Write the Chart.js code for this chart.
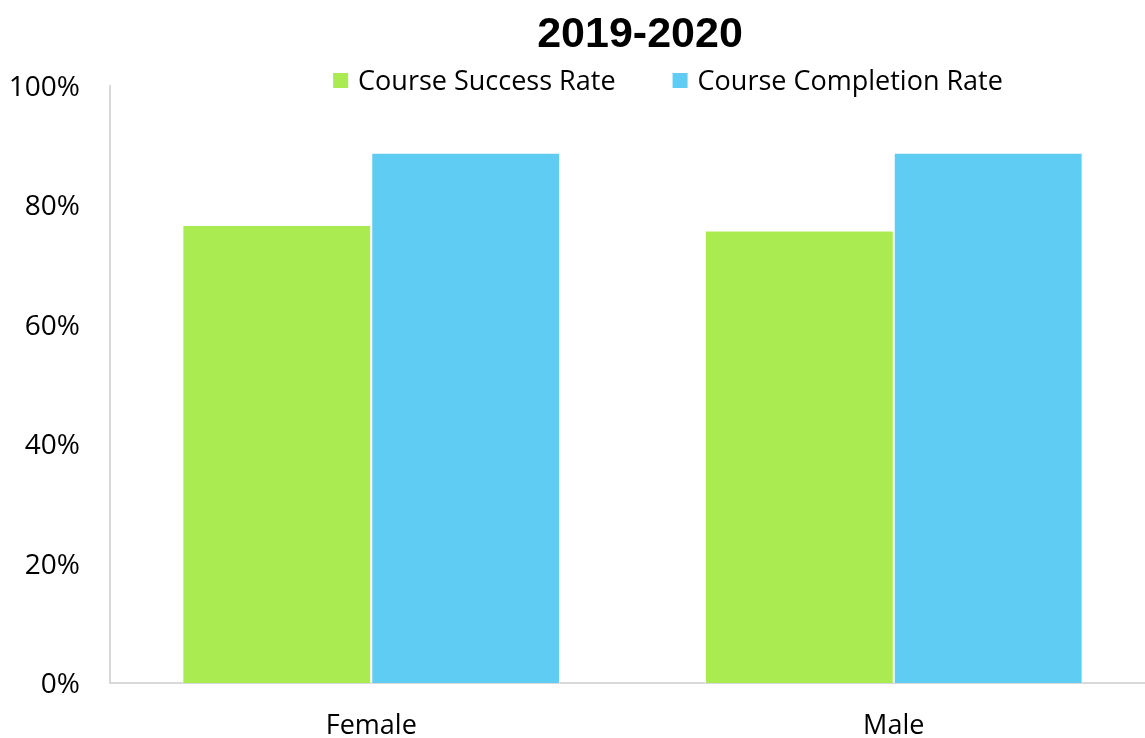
<!DOCTYPE html>
<html>
<head>
<meta charset="utf-8">
<script src="https://cdn.jsdelivr.net/npm/chart.js@4/dist/chart.umd.min.js"></script>
<style>
  html, body { margin: 0; padding: 0; overflow: hidden; background: #ffffff; }
  canvas { display: block; }
</style>
</head>
<body>
<canvas id="chart" width="1155" height="738"></canvas>
<script>
// Course outcome rates by gender, 2019-2020
const chartTitle = '2019-2020';
const categories = ['Female', 'Male'];
const seriesNames = ['Course Success Rate', 'Course Completion Rate'];
const successRate = [76.7, 75.8];
const completionRate = [88.8, 88.8];
const yTickValues = [0, 20, 40, 60, 80, 100];
const seriesColors = ['#AAEB52', '#5FCCF3'];

const TEXT_FONT = "'Open Sans', 'Liberation Sans', sans-serif";
const TITLE_FONT = "'Liberation Sans', Arial, sans-serif";

// Title and series key drawn across the top band
const headerPlugin = {
  id: 'header',
  afterDraw(chart) {
    const ctx = chart.ctx;
    ctx.save();
    ctx.fillStyle = '#000000';
    ctx.font = `bold 43px ${TITLE_FONT}`;
    ctx.textAlign = 'center';
    ctx.textBaseline = 'alphabetic';
    ctx.fillText(chartTitle, 640, 47);

    ctx.font = `27px ${TEXT_FONT}`;
    ctx.textAlign = 'left';
    const box = 15, textGap = 10, itemGap = 57;
    const items = chart.data.datasets.map(ds => ({
      label: ds.label,
      color: ds.backgroundColor,
      w: ctx.measureText(ds.label).width
    }));
    const total = items.reduce((s, it) => s + box + textGap + it.w, 0) + itemGap * (items.length - 1);
    let x = 668 - total / 2;
    items.forEach(it => {
      ctx.fillStyle = it.color;
      ctx.fillRect(x, 73, box, box);
      ctx.fillStyle = '#000000';
      ctx.fillText(it.label, x + box + textGap, 90);
      x += box + textGap + it.w + itemGap;
    });
    ctx.restore();
  }
};

new Chart(document.getElementById('chart'), {
  type: 'bar',
  data: {
    labels: categories,
    datasets: [
      {
        label: seriesNames[0],
        data: successRate,
        backgroundColor: seriesColors[0],
        borderColor: '#ffffff',
        borderWidth: 1
      },
      {
        label: seriesNames[1],
        data: completionRate,
        backgroundColor: seriesColors[1],
        borderColor: '#ffffff',
        borderWidth: 1
      }
    ]
  },
  options: {
    responsive: false,
    animation: false,
    events: [],
    layout: { padding: { top: 86, left: 0, right: 0, bottom: 0 } },
    datasets: {
      bar: { categoryPercentage: 0.723, barPercentage: 1.0 }
    },
    plugins: {
      legend: { display: false },
      title: { display: false },
      tooltip: { enabled: false }
    },
    scales: {
      x: {
        offset: true,
        grid: { display: false, drawTicks: false },
        border: { display: true, color: '#D9D9D9', width: 2 },
        ticks: {
          color: '#000000',
          font: { family: TEXT_FONT, size: 27 },
          padding: 27
        },
        afterFit(scale) { scale.height = 55; }
      },
      y: {
        min: 0,
        max: 100,
        afterBuildTicks(scale) { scale.ticks = yTickValues.map(v => ({ value: v })); },
        grid: { display: false, drawTicks: false },
        border: { display: true, color: '#D9D9D9', width: 2 },
        ticks: {
          color: '#000000',
          font: { family: TEXT_FONT, size: 28 },
          padding: 30,
          labelOffset: 2,
          callback: v => v + '%'
        },
        afterFit(scale) { scale.width = 110; }
      }
    }
  },
  plugins: [headerPlugin]
});
</script>
</body>
</html>
